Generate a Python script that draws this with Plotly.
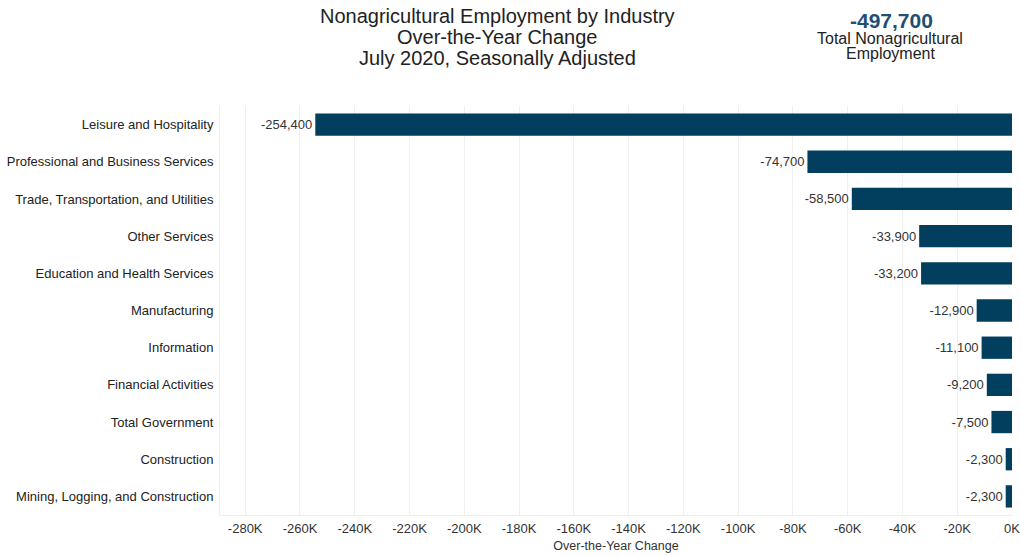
import plotly.graph_objects as go

categories = [
    "Leisure and Hospitality",
    "Professional and Business Services",
    "Trade, Transportation, and Utilities",
    "Other Services",
    "Education and Health Services",
    "Manufacturing",
    "Information",
    "Financial Activities",
    "Total Government",
    "Construction",
    "Mining, Logging, and Construction",
]
values = [-254400, -74700, -58500, -33900, -33200, -12900, -11100, -9200, -7500, -2300, -2300]
tick_vals = list(range(-280000, 1, 20000))
tick_text = [f"{v // 1000}K" for v in tick_vals]
total_value = "-497,700"

font = "Liberation Sans, Arial, sans-serif"
L, R, T, B = 220, 9, 106, 41
PW = 1021 - L - R

fig = go.Figure(
    go.Bar(
        x=values,
        y=categories,
        orientation="h",
        marker=dict(color="#023f5f", line=dict(width=0)),
        text=[f"{v:,}" for v in values],
        textposition="outside",
        textfont=dict(size=13, color="#333333", family=font),
        cliponaxis=False,
        width=0.6,
    )
)

fig.update_layout(
    width=1021,
    height=556,
    margin=dict(l=L, r=R, t=T, b=B, autoexpand=False),
    plot_bgcolor="white",
    paper_bgcolor="white",
    showlegend=False,
    font=dict(family=font, size=13, color="#333333"),
    xaxis=dict(
        range=[-289200, 1],
        tickvals=tick_vals,
        ticktext=tick_text,
        showgrid=True,
        gridcolor="#efefef",
        gridwidth=1,
        zeroline=False,
        showline=True,
        linecolor="#eeeeee",
        tickfont=dict(size=13, color="#333333"),
        title=dict(text="Over-the-Year Change", font=dict(size=12.5, color="#333333"), standoff=6),
        ticks="",
        ticklabelstandoff=1,
        ticklabeloverflow="allow",
        automargin=False,
    ),
    yaxis=dict(
        categoryorder="array",
        categoryarray=categories[::-1],
        showgrid=False,
        showline=True,
        linecolor="#eeeeee",
        tickfont=dict(size=13, color="#222222"),
        ticks="",
        ticklabelstandoff=3,
        automargin=False,
    ),
)

title_lines = [
    "Nonagricultural Employment by Industry",
    "Over-the-Year Change",
    "July 2020, Seasonally Adjusted",
]
for i, line in enumerate(title_lines):
    fig.add_annotation(
        text=line, xref="paper", yref="paper", x=(497 - L) / PW, y=1,
        xanchor="center", yanchor="middle", yshift=(T - 16 - i * 21),
        showarrow=False, font=dict(size=20, color="#222222", family=font),
    )

fig.add_annotation(
    text=f"<b>{total_value}</b>", xref="paper", yref="paper", x=(891 - L) / PW, y=1,
    xanchor="center", yanchor="middle", yshift=T - 20,
    showarrow=False, font=dict(size=21, color="#1e5076", family=font),
)
for i, line in enumerate(["Total Nonagricultural", "Employment"]):
    fig.add_annotation(
        text=line, xref="paper", yref="paper", x=(890 - L) / PW, y=1,
        xanchor="center", yanchor="middle", yshift=T - 38 - i * 15,
        showarrow=False, font=dict(size=16, color="#222222", family=font),
    )

fig.write_html("out.html")
